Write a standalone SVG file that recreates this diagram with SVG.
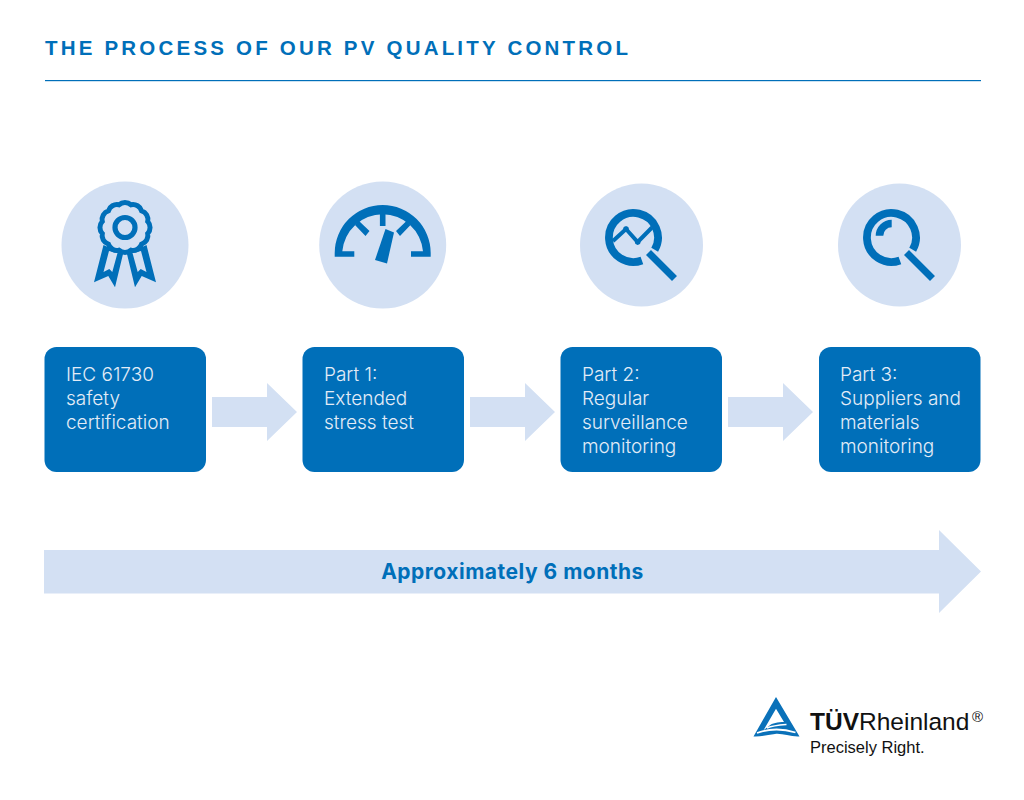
<svg xmlns="http://www.w3.org/2000/svg" width="1024" height="800" viewBox="0 0 1024 800">
<defs>
<g id="lens"><path fill="none" stroke="#006fb9" stroke-width="7.800" d="M641.900 260.500A24.500 24.500 0 1 1 654.700 249.700"/><path fill="none" stroke="#006fb9" stroke-width="7" d="M648.500 252.500L674.500 278.500"/></g>
</defs>
<style>
.t{font-family:"Inter","Liberation Sans",sans-serif;font-weight:300;font-size:19px;fill:#e3ecf7}
.c{fill:#d3e0f3}
.b{fill:#006fb9}
.a{fill:#d3e0f3}
</style>
<rect width="1024" height="800" fill="#fff"/>
<text x="45" y="55" font-family="'Liberation Sans',sans-serif" font-weight="700" font-size="20.500" letter-spacing="3.200" fill="#006fb9">THE PROCESS OF OUR PV QUALITY CONTROL</text>
<rect x="45" y="80" width="936" height="1.200" fill="#006fb9"/>
<g id="connectors">
<path class="a" d="M212 397H267V383L297 412L267 441V427H212Z"/>
<path class="a" d="M470 397H525V383L555 412L525 441V427H470Z"/>
<path class="a" d="M728 397H783V383L813 412L783 441V427H728Z"/>
<path class="a" d="M44 550H939V530L981 571.500L939 613V593.500H44Z"/>
<text x="512.500" y="579" text-anchor="middle" font-family="'Inter','Liberation Sans',sans-serif" font-weight="700" font-size="21" letter-spacing="0.500" fill="#006fb9">Approximately 6 months</text>
</g>
<g id="icon1">
<circle class="c" cx="125" cy="245" r="63.500"/>
<circle cx="125" cy="227.500" r="10" fill="none" stroke="#006fb9" stroke-width="5.200"/>
<path fill="none" stroke="#006fb9" stroke-width="5" d="M131.080 204.800A9 9 0 0 1 141.620 210.880A9 9 0 0 1 147.700 221.420A9 9 0 0 1 147.700 233.580A9 9 0 0 1 141.620 244.120A9 9 0 0 1 131.080 250.200A9 9 0 0 1 118.920 250.200A9 9 0 0 1 108.380 244.120A9 9 0 0 1 102.300 233.580A9 9 0 0 1 102.300 221.420A9 9 0 0 1 108.380 210.880A9 9 0 0 1 118.920 204.800A9 9 0 0 1 131.080 204.800Z"/>
<path class="b" fill-rule="evenodd" d="M103.500 245L109 247.500L116 249L123.500 252L115 287.300L108.300 276L94 282.300ZM109 251L103.500 272L109.300 269L112.300 272L117.500 253Z"/>
<path class="b" fill-rule="evenodd" d="M146.500 245L141 247.500L134 249L126.500 252L135 287.300L141.700 276L156 282.300ZM141 251L146.500 272L140.700 269L137.700 272L132.500 253Z"/>
</g>
<g id="icon2">
<circle class="c" cx="382.700" cy="245" r="63.500"/>
<path class="b" d="M334.700 256.700V253A48 48 0 0 1 430.700 253V256.700H411V251.300H423A40.500 40.500 0 0 0 342.300 251.300H354.300V256.700Z"/>
<path class="b" d="M379.900 207H385.500V226H379.900ZM355 225L359 221L369.500 231L365.500 236ZM410.500 225L406.500 221L396 231L400 236Z"/>
<path class="b" d="M385.500 229L394 232.500L387 263.500L375 260Z"/>
</g>
<g id="icon3">
<circle class="c" cx="641.500" cy="245" r="61.500"/>
<use href="#lens"/>
<path fill="none" stroke="#006fb9" stroke-width="4" d="M613 241L626 229L637.700 242L652 227.500"/>
<circle class="b" cx="626" cy="229" r="2.800"/>
<circle class="b" cx="637.700" cy="242" r="2.800"/>
</g>
<g id="icon4">
<circle class="c" cx="899.500" cy="245" r="61.500"/>
<use href="#lens" x="258"/>
<path class="b" d="M875.700 235.700A16 16 0 0 1 891.700 219.700V227.300A8.400 8.400 0 0 0 883.300 235.700Z"/>
</g>
<g id="node1">
<rect class="b" x="44.500" y="347" width="161.500" height="125" rx="12"/>
<text class="t" x="66" y="381">IEC 61730</text>
<text class="t" x="66" y="405">safety</text>
<text class="t" x="66" y="429">certification</text>
</g>
<g id="node2">
<rect class="b" x="302.500" y="347" width="161.500" height="125" rx="12"/>
<text class="t" x="324" y="381">Part 1:</text>
<text class="t" x="324" y="405">Extended</text>
<text class="t" x="324" y="429">stress test</text>
</g>
<g id="node3">
<rect class="b" x="560.500" y="347" width="161.500" height="125" rx="12"/>
<text class="t" x="582" y="381">Part 2:</text>
<text class="t" x="582" y="405">Regular</text>
<text class="t" x="582" y="429">surveillance</text>
<text class="t" x="582" y="453">monitoring</text>
</g>
<g id="node4">
<rect class="b" x="819" y="347" width="161.500" height="125" rx="12"/>
<text class="t" x="840" y="381">Part 3:</text>
<text class="t" x="840" y="405">Suppliers and</text>
<text class="t" x="840" y="429">materials</text>
<text class="t" x="840" y="453">monitoring</text>
</g>
<g id="logo">
<path fill="#0a71b9" d="M776 697L799.500 736.500C790 737 782 733 775 734C767 735 760 737 753.500 736.500Z"/>
<path fill="#fff" d="M776 708.700L784 722C778 722 772 723 769 726L763.500 730.300Z"/>
<path fill="none" stroke="#fff" stroke-width="1.800" d="M757 733C768 729 781 728 795.500 732.500"/>
<path fill="none" stroke="#fff" stroke-width="1.500" d="M767 728C773 725.500 780 725 786.500 724.500"/>
<text x="810" y="730" font-family="'Liberation Sans',sans-serif" font-size="24.500" fill="#111"><tspan font-weight="700">TÜV</tspan><tspan>Rheinland</tspan></text>
<text x="972" y="722" font-family="'Liberation Sans',sans-serif" font-size="15" fill="#111">®</text>
<text x="810" y="753" font-family="'Liberation Sans',sans-serif" font-size="16.500" fill="#111">Precisely Right.</text>
</g>
</svg>
